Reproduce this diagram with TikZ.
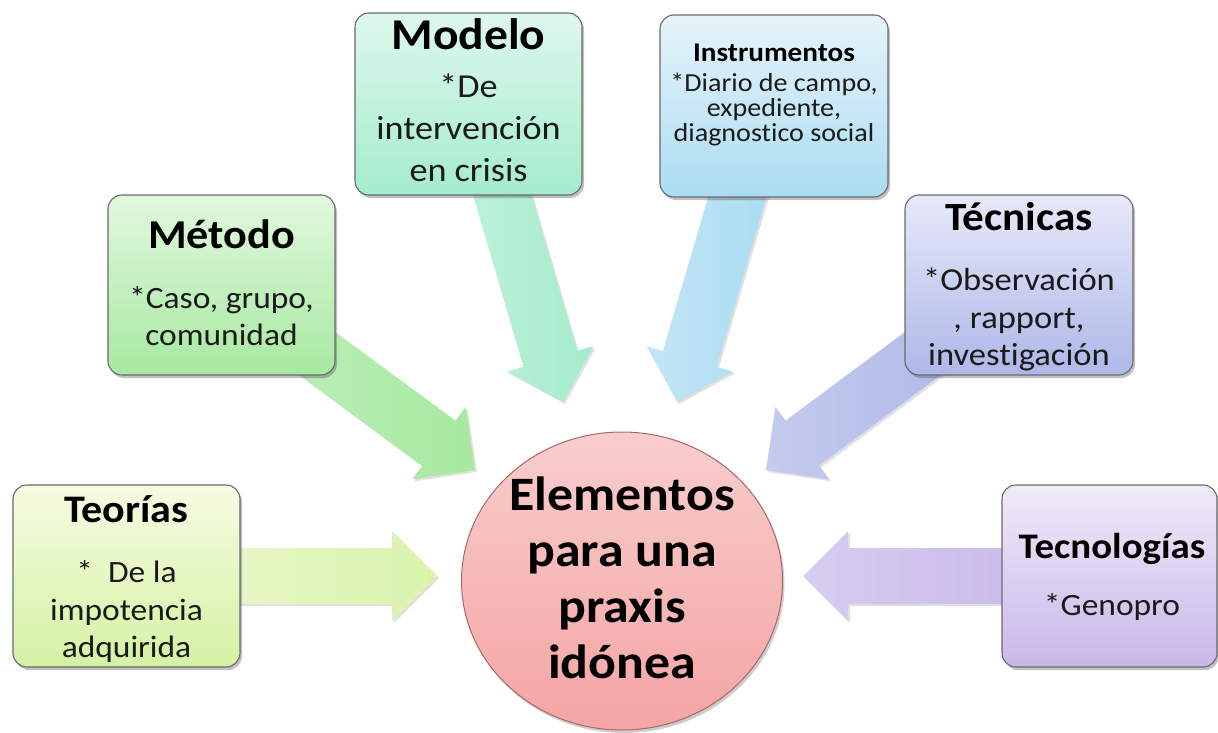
\documentclass[tikz,border=0pt]{standalone}
\usepackage{fontspec}
\setmainfont{Carlito}[FakeStretch=1.08, Ligatures=NoCommon]
\usetikzlibrary{calc,shapes.geometric,shadows}
\newcommand\fsz[1]{\fontsize{#1}{#1}\selectfont}
\definecolor{boxline}{HTML}{6A6A6A}
\definecolor{txtc}{HTML}{1A1A1A}
\definecolor{teoT}{HTML}{F5FCE2}\definecolor{teoB}{HTML}{D5F2A4}
\definecolor{metT}{HTML}{E2F8DE}\definecolor{metB}{HTML}{A6E9A0}
\definecolor{modT}{HTML}{DEF8EC}\definecolor{modB}{HTML}{A4ECCD}
\definecolor{insT}{HTML}{E6F4FA}\definecolor{insB}{HTML}{ABDCF2}
\definecolor{tecT}{HTML}{E7E9F8}\definecolor{tecB}{HTML}{AEB7E8}
\definecolor{tgyT}{HTML}{F0EAF8}\definecolor{tgyB}{HTML}{C8B8EA}
\definecolor{cirT}{HTML}{F9CDCD}\definecolor{cirB}{HTML}{F4A4A4}
\definecolor{cirL}{HTML}{A86868}
\newcommand\fatarrow[4]{%
  \path let \p1=($(#2)-(#1)$) in \pgfextra{%
    \pgfmathsetmacro\faA{atan2(\y1,\x1)}%
    \pgfmathsetmacro\faL{veclen(\x1,\y1)}%
    \xdef\FAang{\faA}\xdef\FAlen{\faL}};
  \begin{scope}[shift={(#1)}, rotate=\FAang]
    \shade[left color=#3, right color=#4, arrowshadow]
      (0,-28) -- (\FAlen-45,-28) -- (\FAlen-45,-45) -- (\FAlen,0)
      -- (\FAlen-45,45) -- (\FAlen-45,28) -- (0,28) -- cycle;
  \end{scope}}
\tikzset{
  box/.style={draw=boxline, line width=1.1pt, rounded corners=14pt,
    drop shadow={shadow xshift=2pt, shadow yshift=-3pt, opacity=0.35, fill=black!70},
    inner sep=0pt, minimum width=227pt, minimum height=182pt},
  arrowshadow/.style={drop shadow={shadow xshift=2pt, shadow yshift=-2pt, opacity=0.12, fill=black}},
  ttl/.style={anchor=base, inner sep=0pt, text=black},
  bdy/.style={anchor=base, inner sep=0pt, text=txtc},
}
\begin{document}
\begin{tikzpicture}[x=1pt, y=-1pt]
\useasboundingbox (0,0) rectangle (1218,733);
% arrow end points
\coordinate (teo-s) at (180,576);  \coordinate (teo-e) at (437,576);
\coordinate (met-s) at (276,323);  \coordinate (met-e) at (475,470);
\coordinate (mod-s) at (498,181);  \coordinate (mod-e) at (563,402);
\coordinate (ins-s) at (742,181);  \coordinate (ins-e) at (677,402);
\coordinate (tec-s) at (964,323);  \coordinate (tec-e) at (766,470);
\coordinate (tgy-s) at (1060,576); \coordinate (tgy-e) at (803,576);
% arrows
\fatarrow{teo-s}{teo-e}{teoT!60!teoB}{teoB!85!teoT}
\fatarrow{met-s}{met-e}{metT!40!metB}{metB}
\fatarrow{mod-s}{mod-e}{modT!40!modB}{modB}
\fatarrow{ins-s}{ins-e}{insT!40!insB}{insB}
\fatarrow{tec-s}{tec-e}{tecT!40!tecB}{tecB}
\fatarrow{tgy-s}{tgy-e}{tgyT!40!tgyB}{tgyB}
% centre
\node[ellipse, draw=cirL, line width=1pt, top color=cirT, bottom color=cirB,
  minimum width=321pt, minimum height=298pt, inner sep=0pt,
  drop shadow={shadow xshift=2pt, shadow yshift=-3pt, opacity=0.2, fill=black}] (cen) at (622,581) {};
\node[ttl, font=\bfseries\fsz{48}] (cen1) at (622,510) {Elementos};
\node[ttl, font=\bfseries\fsz{48}] (cen2) at (622,566) {para una};
\node[ttl, font=\bfseries\fsz{48}] (cen3) at (622,622) {praxis};
\node[ttl, font=\bfseries\fsz{48}] (cen4) at (622,678) {idónea};
% Teorías
\node[box, top color=teoT, bottom color=teoB] (teo) at (126.5,576) {};
\node[ttl, font=\bfseries\fsz{39}] (teo-t) at (126.5,522) {Teorías};
\node[bdy, font=\fsz{31}] (teo-1) at (126.5,582) {* \ De la};
\node[bdy, font=\fsz{31}] (teo-2) at (126.5,620) {impotencia};
\node[bdy, font=\fsz{31}] (teo-3) at (126.5,657) {adquirida};
% Método
\node[box, top color=metT, bottom color=metB, minimum height=180pt] (met) at (221.5,285) {};
\node[ttl, font=\bfseries\fsz{41}] (met-t) at (221.5,248) {Método};
\node[bdy, font=\fsz{31}] (met-1) at (221.5,308) {*Caso, grupo,};
\node[bdy, font=\fsz{31}] (met-2) at (221.5,345) {comunidad};
% Modelo
\node[box, top color=modT, bottom color=modB] (mod) at (468.5,104) {};
\node[ttl, font=\bfseries\fsz{44}] (mod-t) at (468.5,50) {Modelo};
\node[bdy, font=\fsz{33.5}] (mod-1) at (468.5,98) {*De};
\node[bdy, font=\fsz{33.5}] (mod-2) at (468.5,140) {intervención};
\node[bdy, font=\fsz{33.5}] (mod-3) at (468.5,182) {en crisis};
% Instrumentos
\node[box, top color=insT, bottom color=insB, minimum width=228pt] (ins) at (774,106) {};
\node[ttl, font=\bfseries\fsz{27}] (ins-t) at (774,62) {Instrumentos};
\node[bdy, font=\fsz{26}] (ins-1) at (774,92) {*Diario de campo,};
\node[bdy, font=\fsz{26}] (ins-2) at (774,117) {expediente,};
\node[bdy, font=\fsz{26}] (ins-3) at (774,142) {diagnostico social};
% Técnicas
\node[box, top color=tecT, bottom color=tecB, minimum width=228pt, minimum height=180pt] (tec) at (1019,285) {};
\node[ttl, font=\bfseries\fsz{40}] (tec-t) at (1019,230) {Técnicas};
\node[bdy, font=\fsz{32}] (tec-1) at (1019,290) {*Observación};
\node[bdy, font=\fsz{32}] (tec-2) at (1019,328) {, rapport,};
\node[bdy, font=\fsz{32}] (tec-3) at (1019,365) {investigación};
% Tecnologías
\node[box, top color=tgyT, bottom color=tgyB, minimum width=215pt] (tgy) at (1109.5,576) {};
\node[ttl, font=\bfseries\fsz{36}] (tgy-t) at (1112,558) {Tecnologías};
\node[bdy, font=\fsz{31}] (tgy-1) at (1112,615) {*Genopro};
\end{tikzpicture}
\end{document}
